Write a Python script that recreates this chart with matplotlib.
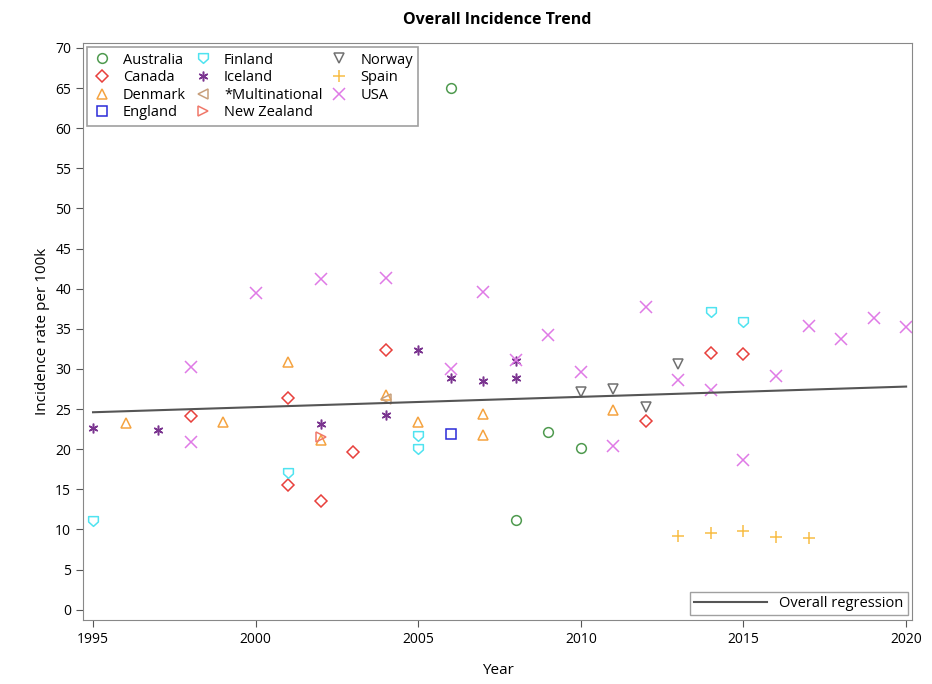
import numpy as np
import matplotlib
matplotlib.use('Agg')
import matplotlib.pyplot as plt
from matplotlib.path import Path

plt.rcParams['font.family'] = ['Open Sans', 'DejaVu Sans']

# data: (year, incidence per 100k)
australia_x = [2006, 2008, 2009, 2010]
australia_y = [65.0, 11.2, 22.2, 20.2]

canada_x = [1998, 2001, 2001, 2002, 2003, 2004, 2012, 2014, 2015]
canada_y = [24.1, 26.4, 15.5, 13.5, 19.7, 32.3, 23.5, 32.0, 31.9]

denmark_x = [1996, 1999, 2001, 2002, 2004, 2005, 2007, 2007, 2011]
denmark_y = [23.3, 23.4, 30.8, 21.2, 26.7, 23.4, 24.4, 21.8, 24.9]

england_x = [2006]
england_y = [21.9]

finland_x = [1995, 2001, 2005, 2005, 2014, 2015]
finland_y = [11.0, 17.0, 21.7, 20.0, 37.1, 35.8]

iceland_x = [1995, 1997, 2002, 2004, 2005, 2006, 2007, 2008, 2008]
iceland_y = [22.7, 22.4, 23.1, 24.2, 32.3, 28.9, 28.5, 31.0, 28.9]

multinational_x = [2004]
multinational_y = [26.3]

newzealand_x = [2002]
newzealand_y = [21.5]

norway_x = [2010, 2011, 2012, 2013]
norway_y = [27.1, 27.5, 25.3, 30.6]

spain_x = [2013, 2014, 2015, 2016, 2017]
spain_y = [9.2, 9.5, 9.8, 9.1, 8.9]

usa_x = [1998, 1998, 2000, 2002, 2004, 2006, 2007, 2008, 2009, 2010, 2011,
         2012, 2013, 2014, 2015, 2016, 2017, 2018, 2019, 2020]
usa_y = [30.2, 20.9, 39.4, 41.2, 41.3, 30.0, 39.6, 31.1, 34.2, 29.6, 20.4,
         37.7, 28.6, 27.4, 18.7, 29.1, 35.3, 33.7, 36.3, 35.2]

reg_x = [1995, 2020]
reg_y = [24.6, 27.8]

# downward shield shape for Finland
shield = Path([(-1, 1), (1, 1), (1, -0.1), (0, -1), (-1, -0.1), (-1, 1)],
              [Path.MOVETO] + [Path.LINETO] * 4 + [Path.CLOSEPOLY])

series = [
    ('Australia', australia_x, australia_y, 'o', '#4f9a4f'),
    ('Canada', canada_x, canada_y, 'D', '#e8403c'),
    ('Denmark', denmark_x, denmark_y, '^', '#f5a340'),
    ('England', england_x, england_y, 's', '#2b2bd8'),
    ('Finland', finland_x, finland_y, shield, '#4fe3f0'),
    ('Iceland', iceland_x, iceland_y, (6, 2, 0), '#7b3590'),
    ('*Multinational', multinational_x, multinational_y, '<', '#c8a07c'),
    ('New Zealand', newzealand_x, newzealand_y, '>', '#f0786a'),
    ('Norway', norway_x, norway_y, 'v', '#707070'),
    ('Spain', spain_x, spain_y, '+', '#f8bd45'),
    ('USA', usa_x, usa_y, 'x', '#df7ae6'),
]

fig = plt.figure(figsize=(9.32, 6.84), dpi=100)
ax = fig.add_axes([0.089, 0.094, 0.8895, 0.843])

handles = []
for name, xs, ys, mk, col in series:
    ms = 7
    if mk == 'D':
        ms = 6
    if mk in ('+', 'x'):
        ms = 8
    h, = ax.plot(xs, ys, linestyle='none', marker=mk, markersize=ms,
                 markerfacecolor='none', markeredgecolor=col,
                 markeredgewidth=1.1, label=name)
    handles.append(h)

reg, = ax.plot(reg_x, reg_y, color='#555555', linewidth=1.5,
               label='Overall regression')

ax.set_xlim(1994.69, 2020.18)
ax.set_ylim(-1.25, 70.6)
ax.set_xticks(range(1995, 2021, 5))
ax.set_yticks(range(0, 71, 5))
ax.tick_params(labelsize=10, length=5, color='#555555')
for s in ax.spines.values():
    s.set_color('#888888')

ax.set_xlabel('Year', fontsize=11, labelpad=12)
ax.set_ylabel('Incidence rate per 100k', fontsize=11)
ax.set_title('Overall Incidence Trend', fontsize=11.5, fontweight='bold', pad=14)

leg1 = ax.legend(handles=handles, loc='upper left', ncol=3, fontsize=10.5,
                 frameon=True, fancybox=False, edgecolor='#888888',
                 handlelength=1.3, handletextpad=0.8, columnspacing=0.5,
                 labelspacing=0.18, borderaxespad=0.3, borderpad=0.35)
leg1.get_frame().set_linewidth(1.2)
ax.add_artist(leg1)

leg2 = ax.legend(handles=[reg], loc='lower right', fontsize=10.5,
                 frameon=True, fancybox=False, edgecolor='#888888',
                 handlelength=5, borderaxespad=0.3, borderpad=0.3)
leg2.get_frame().set_linewidth(1.0)

fig.savefig('out.png', dpi=100)
